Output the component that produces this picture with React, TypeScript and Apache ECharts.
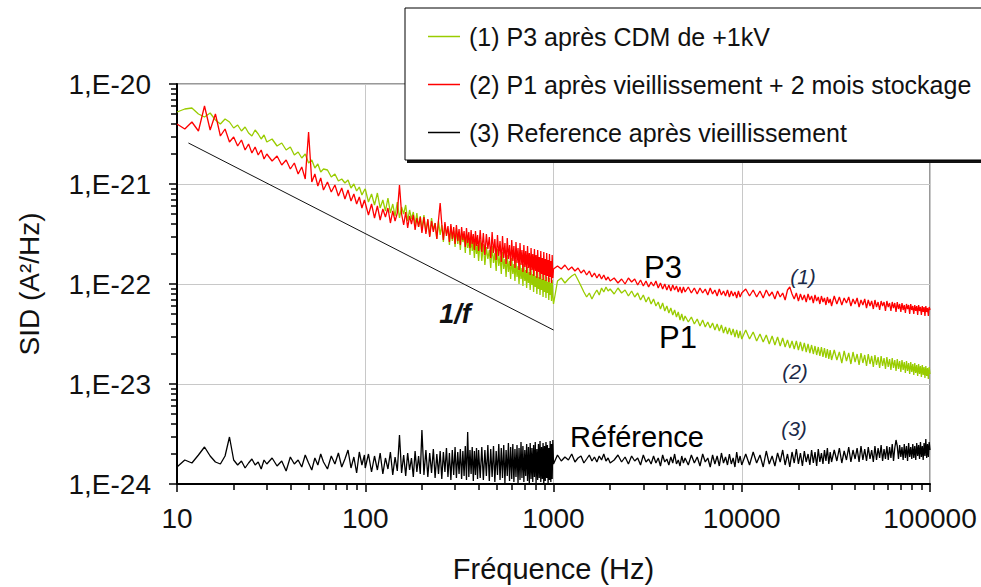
import React, { useEffect, useRef } from 'react';
import * as echarts from 'echarts';

const FONT = '"Liberation Sans", Arial, sans-serif';

const seriesNames = [
  '(1) P3 après CDM de +1kV',
  '(2) P1 après vieillissement + 2 mois stockage',
  '(3) Reference après vieillissement',
];
const seriesColors = ['#99cc00', '#ff0000', '#000000'];

const xTickLabels = ['10', '100', '1000', '10000', '100000'];
const yTickLabels = ['1,E-24', '1,E-23', '1,E-22', '1,E-21', '1,E-20'];

// Frequency grid of the two measurement bands: [start, end, step] in Hz
const freqSegA = [[10, 30, 1], [32, 60, 2], [63, 99, 3], [100, 200, 4], [205, 400, 5], [408, 1000, 8]];
const freqSegB = [[1050, 2000, 50], [2100, 5000, 100], [5200, 10000, 200], [10500, 30000, 500], [31000, 100000, 1000]];

// SID values, stored as 100 x log10(A²/Hz)
const greenA = [
  -2028, -2025, -2024, -2030, -2033, -2029, -2036, -2040, -2035, -2038, -2044, -2041, -2047, -2043, -2049, -2052, -2046, -2050, -2055, -2051, -2058,
  -2055, -2062, -2059, -2066, -2063, -2071, -2068, -2074, -2070, -2079, -2076, -2084, -2080, -2088, -2085,
  -2086, -2093, -2090, -2097, -2095, -2099, -2096, -2104, -2100, -2107, -2103, -2111, -2106,
  -2105, -2118, -2110, -2121, -2109, -2124, -2116, -2127, -2114, -2129,
  -2120, -2132, -2118, -2134, -2123, -2130, -2121, -2137, -2126, -2135,
  -2128, -2141, -2129, -2143, -2132, -2145,
  -2131, -2148, -2136, -2152, -2134, -2146, -2139, -2155, -2137, -2151,
  -2141, -2158, -2140, -2150, -2145, -2161, -2142, -2157, -2147, -2163,
  -2144, -2160, -2149, -2166, -2148, -2158, -2152, -2169, -2150, -2164,
  -2155, -2171, -2153, -2167, -2158, -2174, -2156, -2170, -2161, -2177,
  -2156, -2177, -2160, -2181, -2163, -2175, -2166, -2184, -2162, -2179,
  -2169, -2187, -2165, -2182, -2172, -2190, -2168, -2185, -2175, -2193,
  -2171, -2188, -2177, -2195, -2174, -2190, -2180, -2197, -2176, -2193,
  -2182, -2200, -2179, -2195, -2184, -2202, -2180, -2197, -2186, -2204,
  -2183, -2199, -2188, -2206, -2185, -2201, -2190, -2208, -2187, -2203,
  -2192, -2210, -2188, -2205, -2193, -2211, -2190, -2206, -2195, -2213,
  -2191, -2208, -2196, -2214, -2193, -2209, -2198, -2216, -2194, -2211,
  -2199, -2217, -2196, -2212, -2220,
];
const redA = [
  -2040, -2045, -2038, -2047, -2022, -2046, -2030, -2052, -2045, -2058, -2053, -2062, -2056, -2066, -2060, -2069, -2063, -2071, -2066, -2075, -2070,
  -2077, -2072, -2081, -2076, -2085, -2079, -2090, -2083, -2095, -2048, -2098, -2090, -2102, -2094, -2106,
  -2098, -2108, -2101, -2112, -2104, -2115, -2106, -2117, -2110, -2120, -2113, -2124, -2116,
  -2119, -2131, -2120, -2134, -2122, -2136, -2125, -2133, -2124, -2139,
  -2127, -2137, -2129, -2101, -2130, -2141, -2128, -2144, -2132, -2140,
  -2131, -2146, -2134, -2143, -2133, -2149,
  -2133, -2150, -2135, -2153, -2137, -2148, -2139, -2155, -2136, -2119,
  -2140, -2156, -2138, -2152, -2142, -2158, -2140, -2155, -2143, -2160,
  -2141, -2157, -2145, -2161, -2143, -2156, -2147, -2163, -2144, -2159,
  -2148, -2164, -2146, -2160, -2150, -2166, -2147, -2162, -2151, -2167,
  -2146, -2168, -2149, -2171, -2150, -2165, -2153, -2174, -2148, -2169,
  -2155, -2176, -2151, -2172, -2157, -2178, -2152, -2174, -2159, -2180,
  -2154, -2175, -2161, -2182, -2156, -2177, -2162, -2184, -2158, -2179,
  -2164, -2186, -2159, -2181, -2166, -2188, -2161, -2183, -2167, -2189,
  -2162, -2184, -2169, -2191, -2164, -2186, -2170, -2192, -2165, -2187,
  -2171, -2194, -2166, -2188, -2173, -2195, -2167, -2190, -2174, -2196,
  -2168, -2191, -2175, -2197, -2169, -2192, -2176, -2198, -2170, -2193,
  -2177, -2199, -2171, -2194, -2185,
];
const refA = [
  -2383, -2376, -2379, -2371, -2363, -2372, -2378, -2380, -2372, -2353, -2376, -2381, -2377, -2384, -2379, -2375, -2381, -2378, -2385, -2376, -2380,
  -2374, -2382, -2377, -2387, -2373, -2380, -2376, -2383, -2371, -2379, -2386, -2374, -2381, -2370, -2378,
  -2385, -2372, -2380, -2369, -2383, -2375, -2366, -2384, -2373, -2389, -2368, -2381, -2371,
  -2384, -2370, -2388, -2372, -2386, -2369, -2390, -2374, -2385, -2368,
  -2391, -2373, -2387, -2351, -2389, -2371, -2392, -2369, -2386, -2374,
  -2393, -2367, -2388, -2372, -2390, -2346,
  -2391, -2366, -2393, -2369, -2389, -2365, -2394, -2370, -2390, -2367,
  -2395, -2368, -2388, -2364, -2393, -2369, -2396, -2366, -2391, -2363,
  -2394, -2368, -2390, -2365, -2395, -2367, -2392, -2362, -2396, -2348,
  -2393, -2366, -2390, -2363, -2397, -2367, -2391, -2364, -2395, -2366,
  -2394, -2363, -2396, -2366, -2392, -2361, -2397, -2365, -2393, -2362,
  -2398, -2367, -2391, -2360, -2396, -2364, -2394, -2361, -2399, -2366,
  -2392, -2359, -2397, -2363, -2395, -2360, -2398, -2365, -2393, -2361,
  -2399, -2364, -2396, -2358, -2394, -2362, -2398, -2366, -2392, -2360,
  -2397, -2363, -2400, -2359, -2395, -2364, -2398, -2361, -2393, -2358,
  -2399, -2365, -2396, -2360, -2394, -2357, -2398, -2363, -2395, -2359,
  -2400, -2362, -2397, -2358, -2394, -2361, -2399, -2364, -2396, -2357,
  -2398, -2360, -2395, -2356, -2380,
];

const greenB = [
  -2197, -2194, -2199, -2195, -2192, -2190, -2196, -2202, -2208, -2213, -2209, -2215, -2210, -2206, -2211, -2204, -2208, -2203, -2207, -2205,
  -2210, -2204, -2209, -2206, -2212, -2207, -2213, -2209, -2216, -2211,
  -2218, -2213, -2220, -2215, -2222, -2218, -2225, -2219, -2227, -2222,
  -2229, -2224, -2231, -2226, -2233, -2228, -2236, -2230, -2237, -2232,
  -2238, -2233, -2240, -2235, -2242, -2236, -2243, -2238, -2244, -2239,
  -2246, -2240, -2247, -2241, -2249, -2243, -2250, -2244, -2251, -2245,
  -2253, -2246, -2254, -2247, -2255,
  -2246, -2255, -2248, -2257, -2250, -2258, -2251, -2260, -2252, -2261,
  -2253, -2262, -2254, -2263, -2256, -2264, -2257, -2265, -2257, -2266,
  -2258, -2267, -2259, -2268, -2260, -2269, -2261, -2270, -2262, -2271,
  -2263, -2272, -2263, -2273, -2264, -2274, -2265, -2275, -2266, -2276,
  -2266, -2276, -2268, -2279, -2267, -2277, -2269, -2280, -2268, -2278,
  -2270, -2281, -2269, -2279, -2271, -2282, -2270, -2280, -2272, -2283,
  -2271, -2281, -2273, -2284, -2272, -2282, -2274, -2285, -2273, -2283,
  -2275, -2286, -2274, -2284, -2276, -2287, -2275, -2285, -2277, -2288,
  -2276, -2286, -2278, -2289, -2277, -2287, -2279, -2290, -2278, -2288,
  -2280, -2291, -2279, -2289, -2281, -2292, -2280, -2290, -2282, -2293,
  -2281, -2291, -2283, -2294, -2282, -2292, -2284, -2295, -2283, -2290,
];
const redB = [
  -2182, -2185, -2181, -2186, -2183, -2187, -2184, -2189, -2186, -2191, -2187, -2193, -2189, -2194, -2190, -2195, -2191, -2196, -2193, -2197,
  -2194, -2199, -2195, -2200, -2194, -2198, -2195, -2201, -2196, -2202,
  -2197, -2203, -2198, -2202, -2197, -2204, -2199, -2205, -2200, -2206,
  -2201, -2207, -2201, -2206, -2202, -2208, -2203, -2209, -2203, -2208,
  -2203, -2209, -2204, -2210, -2204, -2209, -2205, -2211, -2204, -2210,
  -2206, -2212, -2205, -2211, -2207, -2212, -2206, -2213, -2207, -2212,
  -2208, -2214, -2207, -2213, -2209,
  -2205, -2212, -2206, -2213, -2207, -2214, -2206, -2212, -2208, -2215,
  -2207, -2213, -2209, -2216, -2206, -2203, -2210, -2215, -2209, -2217,
  -2210, -2216, -2211, -2218, -2210, -2216, -2212, -2219, -2211, -2217,
  -2213, -2220, -2212, -2218, -2214, -2221, -2213, -2219, -2215, -2222,
  -2212, -2220, -2213, -2221, -2214, -2219, -2213, -2222, -2215, -2220,
  -2214, -2223, -2216, -2221, -2215, -2224, -2216, -2222, -2217, -2225,
  -2216, -2223, -2218, -2226, -2217, -2222, -2218, -2227, -2217, -2223,
  -2219, -2227, -2218, -2224, -2219, -2228, -2218, -2225, -2220, -2228,
  -2219, -2226, -2221, -2229, -2220, -2225, -2221, -2230, -2220, -2226,
  -2222, -2230, -2221, -2227, -2222, -2231, -2221, -2227, -2223, -2231,
  -2222, -2228, -2223, -2232, -2222, -2228, -2224, -2232, -2223, -2226,
];
const refB = [
  -2371, -2377, -2373, -2376, -2370, -2378, -2374, -2372, -2379, -2375, -2371, -2377, -2373, -2378, -2372, -2376, -2370, -2377, -2374, -2379,
  -2376, -2371, -2378, -2373, -2380, -2372, -2377, -2374, -2381, -2371,
  -2378, -2375, -2380, -2372, -2379, -2374, -2382, -2371, -2378, -2375,
  -2381, -2373, -2379, -2370, -2380, -2376, -2382, -2372, -2379, -2374,
  -2381, -2371, -2379, -2373, -2382, -2370, -2378, -2374, -2383, -2371,
  -2380, -2372, -2382, -2369, -2379, -2373, -2381, -2370, -2380, -2374,
  -2383, -2368, -2379, -2372, -2381,
  -2370, -2381, -2368, -2379, -2371, -2383, -2367, -2380, -2372, -2382,
  -2369, -2378, -2366, -2381, -2370, -2383, -2368, -2379, -2365, -2380,
  -2369, -2382, -2367, -2378, -2370, -2381, -2366, -2379, -2368, -2382,
  -2365, -2378, -2369, -2380, -2366, -2377, -2364, -2380, -2368, -2378,
  -2366, -2377, -2364, -2379, -2367, -2376, -2363, -2378, -2366, -2375,
  -2364, -2378, -2362, -2376, -2365, -2377, -2363, -2375, -2366, -2378,
  -2362, -2376, -2364, -2374, -2361, -2377, -2365, -2375, -2362, -2376,
  -2363, -2374, -2360, -2377, -2364, -2356, -2362, -2375, -2361, -2373,
  -2363, -2376, -2360, -2374, -2362, -2377, -2359, -2373, -2363, -2375,
  -2360, -2374, -2362, -2376, -2359, -2372, -2361, -2375, -2358, -2373,
  -2362, -2376, -2359, -2372, -2355, -2374, -2360, -2373, -2358, -2366,
];

// 1/f guide line: frequencies (Hz) and log10(A²/Hz)
const oneOverFFreq = [11.5, 1000];
const oneOverFLog = [-20.59, -22.46];

function buildFreqs(segs: number[][]) {
  const out: number[] = [];
  segs.forEach(([a, b, s]) => {
    for (let f = a; f <= b + 1e-9; f += s) out.push(f);
  });
  return out;
}

function toPairs(freqs: number[], logs: number[]) {
  const n = Math.min(freqs.length, logs.length);
  const out: number[][] = [];
  for (let i = 0; i < n; i++) out.push([freqs[i], logs[i] / 100]);
  return out;
}

export default function App() {
  const ref = useRef<HTMLDivElement>(null);

  useEffect(() => {
    document.body.style.margin = '0';
    const chart = echarts.init(ref.current!, null, { renderer: 'svg' });

    const freqAll = buildFreqs(freqSegA).concat(buildFreqs(freqSegB));
    const green = toPairs(freqAll, greenA.concat(greenB));
    const red = toPairs(freqAll, redA.concat(redB));
    const refer = toPairs(freqAll, refA.concat(refB));
    const oneF = oneOverFFreq.map((f, i) => [f, oneOverFLog[i]]);

    // Minor tick positions of the log axes (2..9 in each decade), in decades
    const xMinorLog: number[] = [];
    [1, 2, 3, 4].forEach((e) => {
      for (let k = 2; k <= 9; k++) xMinorLog.push(e + Math.log10(k));
    });
    const yMinorLog: number[] = [];
    [-24, -23, -22, -21].forEach((e) => {
      for (let k = 2; k <= 9; k++) yMinorLog.push(e + Math.log10(k));
    });

    const labelStyle = { fontSize: 28, fontFamily: FONT, color: '#111' };

    const lineSeries = [green, red, refer].map((data, i) => ({
      name: seriesNames[i],
      type: 'line',
      xAxisIndex: 0,
      yAxisIndex: 0,
      data,
      showSymbol: false,
      symbol: 'none',
      lineStyle: { color: seriesColors[i], width: 1.3 },
      itemStyle: { color: seriesColors[i] },
    }));

    const annotations = [
      { text: '1/f', x: 455, y: 314, fontSize: 27, fontStyle: 'italic', fontWeight: 'bold', fill: '#111' },
      { text: 'P3', x: 663, y: 267, fontSize: 31, fontStyle: 'normal', fontWeight: 'normal', fill: '#000' },
      { text: 'P1', x: 678, y: 337, fontSize: 31, fontStyle: 'normal', fontWeight: 'normal', fill: '#000' },
      { text: 'Référence', x: 637, y: 437, fontSize: 29, fontStyle: 'normal', fontWeight: 'normal', fill: '#000' },
      { text: '(1)', x: 803, y: 276, fontSize: 21, fontStyle: 'italic', fontWeight: 'normal', fill: '#1c2a48' },
      { text: '(2)', x: 795, y: 371, fontSize: 21, fontStyle: 'italic', fontWeight: 'normal', fill: '#1c2a48' },
      { text: '(3)', x: 794, y: 428, fontSize: 21, fontStyle: 'italic', fontWeight: 'normal', fill: '#1c2a48' },
    ];

    const hiddenParts = {
      axisLine: { show: false },
      axisLabel: { show: false },
      splitLine: { show: false },
    };

    const option: any = {
      animation: false,
      grid: {
        left: 177,
        right: 51,
        top: 84,
        bottom: 103,
        show: true,
        borderColor: '#333',
        borderWidth: 1,
        outerBoundsMode: 'none',
      },
      legend: {
        data: seriesNames,
        orient: 'vertical',
        left: 423,
        top: 19,
        itemGap: 23,
        itemWidth: 32,
        itemHeight: 1.5,
        icon: 'rect',
        selectedMode: false,
        z: 10,
        textStyle: { fontSize: 25, fontFamily: FONT, color: '#111', padding: [0, 0, 0, 4] },
      },
      xAxis: [
        {
          type: 'log',
          logBase: 10,
          min: 10,
          max: 100000,
          position: 'bottom',
          name: 'Fréquence (Hz)',
          nameLocation: 'middle',
          nameGap: 70,
          nameTextStyle: { fontSize: 29, fontFamily: FONT, color: '#111' },
          axisLine: { show: true, lineStyle: { color: '#000', width: 2 } },
          axisTick: { show: true, length: 8, lineStyle: { color: '#000', width: 1.5 } },
          axisLabel: {
            ...labelStyle,
            margin: 20,
            formatter: (v: number) => xTickLabels[Math.round(Math.log10(v)) - 1] ?? '',
          },
          splitLine: { show: true, lineStyle: { color: '#c8c8c8', width: 1 } },
        },
        {
          type: 'value',
          min: 1,
          max: 5,
          position: 'bottom',
          ...hiddenParts,
          axisTick: {
            show: true,
            length: 6,
            customValues: xMinorLog,
            lineStyle: { color: '#000', width: 1.5 },
          },
        },
      ],
      yAxis: [
        {
          type: 'value',
          min: -24,
          max: -20,
          interval: 1,
          position: 'left',
          name: 'SID (A²/Hz)',
          nameLocation: 'middle',
          nameRotate: 90,
          nameGap: 134,
          nameTextStyle: { fontSize: 28, fontFamily: FONT, color: '#111' },
          axisLine: { show: true, lineStyle: { color: '#000', width: 2 } },
          axisTick: { show: true, length: 8, lineStyle: { color: '#000', width: 1.5 } },
          axisLabel: {
            ...labelStyle,
            margin: 26,
            formatter: (v: number) => yTickLabels[Math.round(v) + 24] ?? '',
          },
          splitLine: { show: true, lineStyle: { color: '#c8c8c8', width: 1 } },
        },
        {
          type: 'value',
          min: -24,
          max: -20,
          position: 'left',
          ...hiddenParts,
          axisTick: {
            show: true,
            length: 6,
            customValues: yMinorLog,
            lineStyle: { color: '#000', width: 1.5 },
          },
        },
      ],
      series: [
        ...lineSeries,
        {
          name: '1/f',
          type: 'line',
          xAxisIndex: 0,
          yAxisIndex: 0,
          data: oneF,
          showSymbol: false,
          symbol: 'none',
          lineStyle: { color: '#111', width: 1 },
        },
      ],
      graphic: [
        {
          type: 'rect',
          z: 6,
          shape: { x: 407, y: 11, width: 640, height: 152 },
          style: { fill: '#111' },
          silent: true,
        },
        {
          type: 'rect',
          z: 7,
          shape: { x: 405, y: 8, width: 640, height: 152 },
          style: { fill: '#fff', stroke: '#000', lineWidth: 1 },
          silent: true,
        },
        ...annotations.map((a) => ({
          type: 'text',
          x: a.x,
          y: a.y,
          z: 8,
          silent: true,
          style: {
            text: a.text,
            fontSize: a.fontSize,
            fontFamily: FONT,
            fontStyle: a.fontStyle,
            fontWeight: a.fontWeight,
            fill: a.fill,
            align: 'center',
            verticalAlign: 'middle',
          },
        })),
      ],
    };

    chart.setOption(option);
    return () => chart.dispose();
  }, []);

  return (
    <div
      ref={ref}
      style={{ width: 981, height: 587, position: 'absolute', left: 0, top: 0, background: '#fff' }}
    />
  );
}
